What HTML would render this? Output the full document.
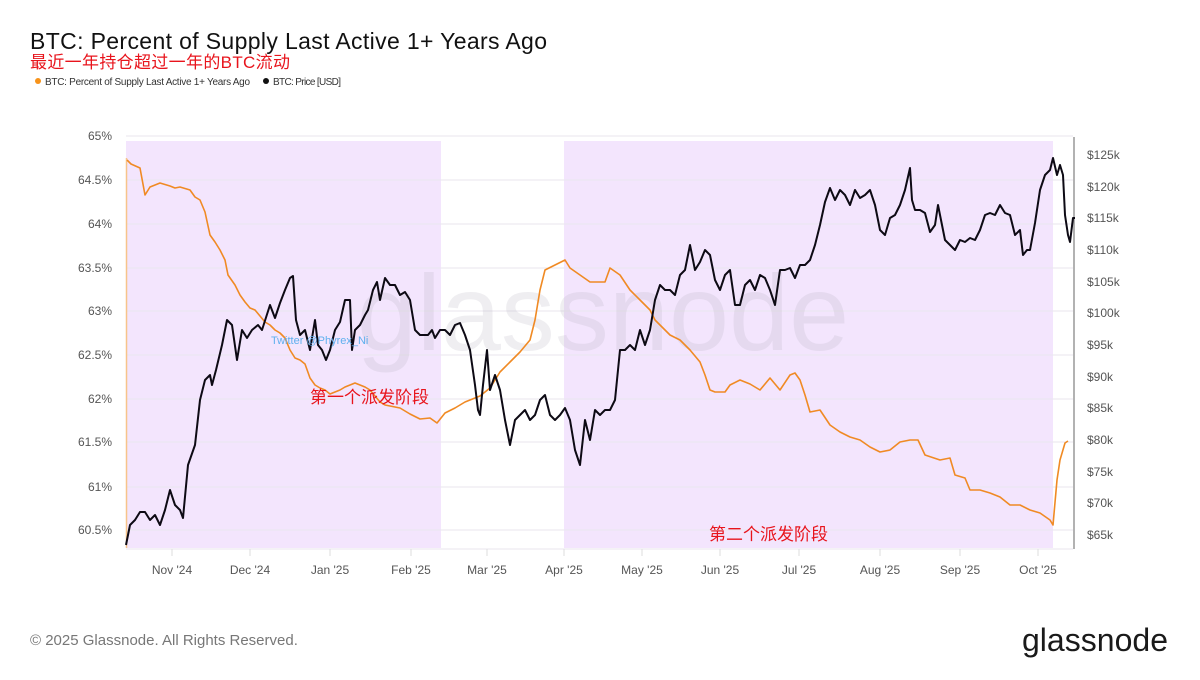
<!DOCTYPE html>
<html><head><meta charset="utf-8"><style>
body{margin:0;background:#fff;width:1200px;height:675px;overflow:hidden;font-family:"Liberation Sans","Noto Sans CJK SC",sans-serif}
</style></head><body>
<svg width="1200" height="675" viewBox="0 0 1200 675" xmlns="http://www.w3.org/2000/svg" font-family="Liberation Sans, Noto Sans CJK SC, sans-serif">
<text x="30" y="49" font-size="23" fill="#111" textLength="517">BTC: Percent of Supply Last Active 1+ Years Ago</text>
<text x="30" y="68" font-size="17" fill="#e8141c" textLength="260">最近一年持仓超过一年的BTC流动</text>
<circle cx="38" cy="81" r="3" fill="#f7931a"/>
<text x="45" y="85" font-size="10" fill="#333" textLength="205">BTC: Percent of Supply Last Active 1+ Years Ago</text>
<circle cx="266" cy="81" r="3" fill="#111"/>
<text x="273" y="85" font-size="10" fill="#333" textLength="68">BTC: Price [USD]</text>
<rect x="126" y="141" width="315" height="407" fill="#f3e5fd"/>
<rect x="564" y="141" width="489" height="407" fill="#f3e5fd"/>
<g stroke="#e9e6ee" stroke-width="1">
<line x1="126" y1="136" x2="1073" y2="136"/><line x1="126" y1="180" x2="1073" y2="180"/><line x1="126" y1="224" x2="1073" y2="224"/><line x1="126" y1="268" x2="1073" y2="268"/><line x1="126" y1="311" x2="1073" y2="311"/><line x1="126" y1="355" x2="1073" y2="355"/><line x1="126" y1="399" x2="1073" y2="399"/><line x1="126" y1="442" x2="1073" y2="442"/><line x1="126" y1="487" x2="1073" y2="487"/><line x1="126" y1="530" x2="1073" y2="530"/>
<line x1="126" y1="549" x2="1073" y2="549"/>
</g>
<g stroke="#ddd"><line x1="172" y1="549" x2="172" y2="556"/><line x1="250" y1="549" x2="250" y2="556"/><line x1="330" y1="549" x2="330" y2="556"/><line x1="411" y1="549" x2="411" y2="556"/><line x1="487" y1="549" x2="487" y2="556"/><line x1="564" y1="549" x2="564" y2="556"/><line x1="642" y1="549" x2="642" y2="556"/><line x1="720" y1="549" x2="720" y2="556"/><line x1="799" y1="549" x2="799" y2="556"/><line x1="880" y1="549" x2="880" y2="556"/><line x1="960" y1="549" x2="960" y2="556"/><line x1="1038" y1="549" x2="1038" y2="556"/></g>
<line x1="1074" y1="137" x2="1074" y2="549" stroke="#999" stroke-width="1.5"/>
<text x="603" y="350" font-size="108" fill="#b8b0c0" fill-opacity="0.22" text-anchor="middle">glassnode</text>
<g font-size="12" fill="#555" text-anchor="end">
<text x="112" y="140">65%</text><text x="112" y="184">64.5%</text><text x="112" y="228">64%</text><text x="112" y="272">63.5%</text><text x="112" y="315">63%</text><text x="112" y="359">62.5%</text><text x="112" y="403">62%</text><text x="112" y="446">61.5%</text><text x="112" y="491">61%</text><text x="112" y="534">60.5%</text>
</g>
<g font-size="12" fill="#555">
<text x="1087" y="159">$125k</text><text x="1087" y="191">$120k</text><text x="1087" y="222">$115k</text><text x="1087" y="254">$110k</text><text x="1087" y="286">$105k</text><text x="1087" y="317">$100k</text><text x="1087" y="349">$95k</text><text x="1087" y="381">$90k</text><text x="1087" y="412">$85k</text><text x="1087" y="444">$80k</text><text x="1087" y="476">$75k</text><text x="1087" y="507">$70k</text><text x="1087" y="539">$65k</text>
</g>
<g font-size="12" fill="#555" text-anchor="middle">
<text x="172" y="574">Nov '24</text><text x="250" y="574">Dec '24</text><text x="330" y="574">Jan '25</text><text x="411" y="574">Feb '25</text><text x="487" y="574">Mar '25</text><text x="564" y="574">Apr '25</text><text x="642" y="574">May '25</text><text x="720" y="574">Jun '25</text><text x="799" y="574">Jul '25</text><text x="880" y="574">Aug '25</text><text x="960" y="574">Sep '25</text><text x="1038" y="574">Oct '25</text>
</g>
<line x1="126.5" y1="158" x2="126.5" y2="548" stroke="#f7c48a" stroke-width="1.5"/>
<polyline fill="none" stroke="#f08a24" stroke-width="1.6" stroke-linejoin="round" points="127,160 131,164 140,168 145,195 150,187 160,183 170,186 175,188 180,187 190,190 195,197 200,200 205,212 210,235 215,242 220,250 225,260 228,275 235,285 240,295 245,302 250,308 255,310 260,316 265,322 270,325 275,330 280,333 285,338 290,350 295,358 300,360 305,364 310,378 315,385 320,388 325,390 330,394 340,390 345,387 355,383 365,387 370,390 380,402 385,405 400,408 410,414 420,419 430,418 437,423 445,413 455,408 465,402 475,398 480,396 490,388 500,372 510,362 520,352 530,340 535,320 540,290 545,270 555,265 565,260 570,268 580,275 590,282 600,282 605,282 610,268 620,275 630,290 640,300 650,310 655,320 660,325 670,335 680,340 690,350 700,362 705,375 710,390 715,392 725,392 730,385 740,380 750,384 760,390 770,378 780,390 790,375 795,373 800,380 805,395 810,412 820,410 830,425 840,432 850,437 860,440 870,447 880,452 890,450 900,442 910,440 918,440 925,455 940,460 950,458 955,475 965,478 970,490 980,490 990,493 1000,497 1010,505 1020,505 1030,510 1040,513 1050,520 1053,525 1057,480 1060,460 1065,443 1068,441"/>
<polyline fill="none" stroke="#0d0a14" stroke-width="2" stroke-linejoin="round" points="126,545 130,525 135,520 140,512 145,512 150,520 155,515 160,525 165,510 170,490 175,505 180,510 183,518 188,465 195,445 200,400 205,380 210,375 212,385 216,370 222,345 227,320 232,325 237,360 242,330 247,338 252,330 258,325 262,330 270,305 275,318 280,303 285,290 290,278 293,276 296,320 300,335 305,330 310,350 315,320 318,345 322,350 326,360 330,350 335,330 340,322 345,300 350,300 352,350 355,330 360,325 365,315 368,310 373,290 377,282 380,300 385,278 390,285 395,285 400,295 405,292 410,300 415,330 420,335 428,335 432,330 435,338 440,330 445,330 450,335 455,325 460,323 465,335 470,350 475,385 478,410 480,415 483,385 487,350 490,390 495,375 500,390 505,420 510,445 515,420 520,415 525,410 530,420 535,415 540,400 545,395 550,415 555,420 560,415 565,408 570,420 575,450 580,465 585,420 590,440 595,410 600,415 605,410 610,410 615,400 620,350 625,350 630,345 635,350 640,330 645,345 650,330 655,300 660,285 665,290 670,290 675,295 680,275 685,270 690,245 695,270 700,262 705,250 710,255 715,280 720,290 725,275 730,270 735,305 740,305 745,285 750,280 755,290 760,275 765,278 770,290 775,305 780,270 785,270 790,268 795,278 800,265 805,265 810,260 815,245 820,225 825,202 830,188 835,200 840,190 845,195 850,205 855,190 860,198 865,195 870,190 875,205 880,230 885,235 890,218 895,215 900,205 905,190 910,168 912,200 915,210 920,210 925,213 930,232 935,225 938,205 945,240 950,245 955,250 960,240 965,242 970,238 975,240 980,230 985,215 990,213 995,215 1000,205 1005,213 1010,215 1015,235 1020,230 1023,255 1027,250 1030,250 1035,223 1040,190 1045,175 1050,170 1053,158 1057,175 1060,165 1063,175 1065,215 1068,235 1070,242 1073,218 1075,218"/>
<text x="271" y="344" font-size="11" fill="#5fb0ee">Twitter @Phyrex_Ni</text>
<text x="310" y="403" font-size="17" fill="#e8141c">第一个派发阶段</text>
<text x="709" y="540" font-size="17" fill="#e8141c">第二个派发阶段</text>
<text x="30" y="645" font-size="15" fill="#777">© 2025 Glassnode. All Rights Reserved.</text>
<text x="1168" y="651" font-size="32" fill="#1a1a1a" text-anchor="end" textLength="146">glassnode</text>
</svg>
</body></html>
